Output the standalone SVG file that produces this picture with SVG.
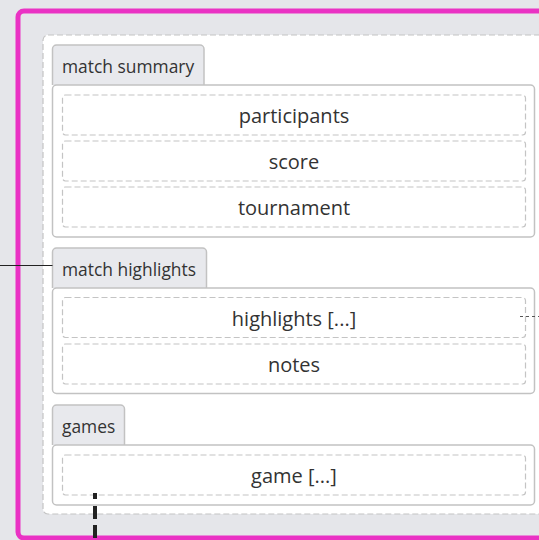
<svg xmlns="http://www.w3.org/2000/svg" width="539" height="540" viewBox="0 0 539 540">
<style>
.tab{fill:#e8e9ed;stroke:#c2c2c2;stroke-width:1.5}
.panel{fill:#fff;stroke:#c2c2c2;stroke-width:1.5}
.item{fill:#fff;stroke:#c4c4c4;stroke-width:1.2;stroke-dasharray:6 3}
.tt{font-family:"Open Sans",sans-serif;font-size:17.4px;fill:#333}
.it{font-family:"Open Sans",sans-serif;font-size:20px;fill:#333;text-anchor:middle}
</style>
<rect x="0" y="0" width="539" height="540" fill="#e5e6ea"/>
<g id="frame">
<rect x="18" y="11" width="540" height="527" rx="6" fill="#e5e6ea" stroke="#ea32c4" stroke-width="5"/>
<rect x="43" y="35" width="520" height="479" rx="5" fill="#fff" stroke="#c4c4c4" stroke-width="1.2" stroke-dasharray="6 3"/>
</g>
<g id="match-summary">
<path class="tab" d="M52.5 85 V49 a4 4 0 0 1 4 -4 H200 a4 4 0 0 1 4 4 V85"/>
<text class="tt" x="62" y="73">match summary</text>
<rect class="panel" x="52.5" y="85" width="482" height="152" rx="4"/>
<g id="participants"><rect class="item" x="62.5" y="95" width="463" height="40" rx="3"/><text class="it" x="294" y="123">participants</text></g>
<g id="score"><rect class="item" x="62.5" y="141" width="463" height="40" rx="3"/><text class="it" x="294" y="169">score</text></g>
<g id="tournament"><rect class="item" x="62.5" y="187" width="463" height="40" rx="3"/><text class="it" x="294" y="215">tournament</text></g>
</g>
<g id="match-highlights">
<path class="tab" d="M52.5 288 V252 a4 4 0 0 1 4 -4 H202.5 a4 4 0 0 1 4 4 V288"/>
<text class="tt" x="62" y="276">match highlights</text>
<rect class="panel" x="52.5" y="288" width="482" height="105.5" rx="4"/>
<g id="highlights"><rect class="item" x="62.5" y="297.5" width="463" height="40" rx="3"/><text class="it" x="294" y="325.5">highlights [...]</text></g>
<g id="notes"><rect class="item" x="62.5" y="344" width="463" height="40" rx="3"/><text class="it" x="294" y="372">notes</text></g>
</g>
<g id="games">
<path class="tab" d="M52.5 445 V409 a4 4 0 0 1 4 -4 H120.5 a4 4 0 0 1 4 4 V445"/>
<text class="tt" x="62" y="433">games</text>
<rect class="panel" x="52.5" y="445" width="482" height="60" rx="4"/>
<g id="game"><rect class="item" x="62.5" y="455" width="463" height="40" rx="3"/><text class="it" x="294" y="483">game [...]</text></g>
</g>
<g id="connectors">
<line x1="0" y1="265.5" x2="52.5" y2="265.5" stroke="#222" stroke-width="1.2"/>
<line x1="520" y1="316.5" x2="539" y2="316.5" stroke="#555" stroke-width="1.2" stroke-dasharray="3 3"/>
<line x1="95" y1="493" x2="95" y2="540" stroke="#222" stroke-width="4" stroke-dasharray="6 7 13 6 13 6"/>
</g>
</svg>
